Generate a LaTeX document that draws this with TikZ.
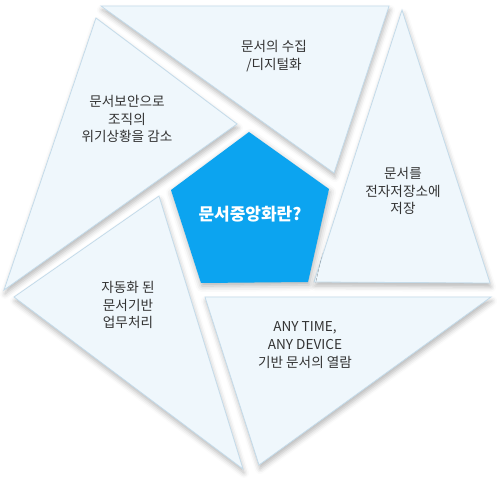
\documentclass[tikz,border=0pt]{standalone}
\usepackage{fontspec}
\setmainfont{Noto Sans CJK KR}
\usetikzlibrary{shadows.blur}
\definecolor{trifill}{RGB}{239,247,252}
\definecolor{triline}{RGB}{196,219,234}
\definecolor{penta}{RGB}{12,164,240}
\definecolor{txt}{RGB}{51,51,51}
\tikzset{
  tri/.style={fill=trifill, draw=triline, line width=0.8pt, line join=miter,
    blur shadow={shadow xshift=1pt, shadow yshift=-4pt, shadow blur radius=5pt, shadow opacity=28}},
  pent/.style={fill=penta, draw=none,
    blur shadow={shadow xshift=1pt, shadow yshift=-3pt, shadow blur radius=6pt, shadow opacity=30}},
  lbl/.style={align=center, text=txt, font=\fontsize{13.6}{17.8}\selectfont, inner sep=0pt},
  title/.style={align=center, text=white, font=\fontsize{17}{20}\selectfont\bfseries, inner sep=0pt}
}
\begin{document}
\begin{tikzpicture}[x=1pt,y=-1pt]
\useasboundingbox (0,0) rectangle (504,481);
% triangles
\path[tri] (101,6) -- (389,6) -- (334,173) -- cycle;
\path[tri] (96,18) -- (237,124) -- (4,290) -- cycle;
\path[tri] (402,10) -- (490,283) -- (314,282) -- cycle;
\path[tri] (205,297) -- (491,297) -- (259,465) -- cycle;
\path[tri] (159,196) -- (243,469) -- (14,297) -- cycle;
% pentagon
\path[pent] (249,132) -- (329,189) -- (308,282) -- (201,283) -- (171,190) -- cycle;
% labels
\node[lbl] (collect) at (274,56) {문서의 수집\\/디지털화};
\node[lbl] (secure) at (127,119) {문서보안으로\\조직의\\위기상황을 감소};
\node[lbl] (store) at (403,191) {문서를\\전자저장소에\\저장};
\node[lbl] (auto) at (128,305) {자동화 된\\문서기반\\업무처리};
\node[lbl] (view) at (305,345) {ANY TIME,\\ANY DEVICE\\기반 문서의 열람};
\node[title] (center) at (250,214) {문서중앙화란?};
\end{tikzpicture}
\end{document}
